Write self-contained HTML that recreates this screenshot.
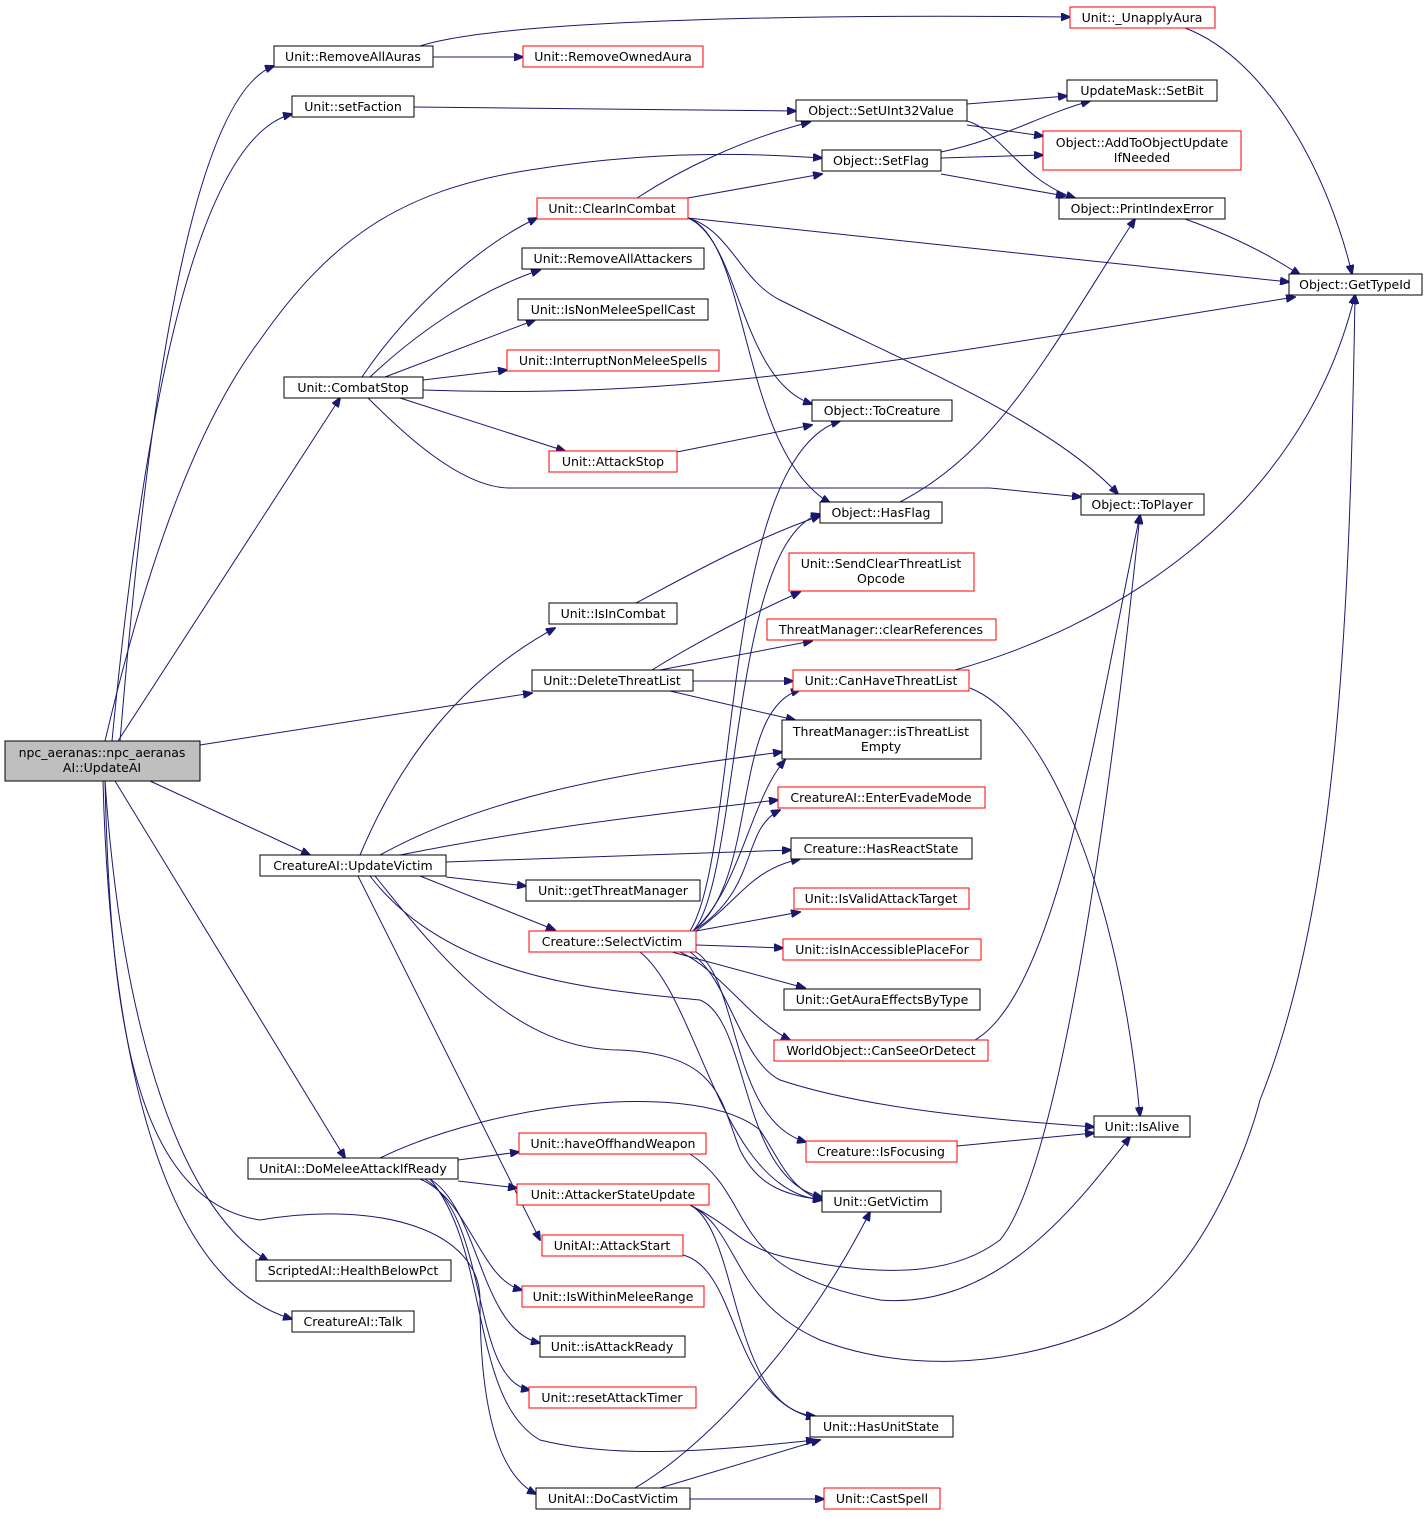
<!DOCTYPE html>
<html><head><meta charset="utf-8"><style>
html,body{margin:0;padding:0;background:#fff;}
svg{display:block;font-family:"DejaVu Sans","Liberation Sans",sans-serif;}
text{font-size:12.5px;fill:#000;text-anchor:middle;}
.n{fill:#fff;stroke:#000;stroke-width:1;}
.r{fill:#fff;stroke:#ff0000;stroke-width:1;}
path{fill:none;stroke:#191970;stroke-width:1;}
</style></head><body>
<svg width="1428" height="1519" viewBox="0 0 1428 1519" xmlns="http://www.w3.org/2000/svg">
<defs><marker id="a" markerWidth="10" markerHeight="8" refX="9" refY="4" orient="auto" markerUnits="userSpaceOnUse"><path d="M0,0 L10,4 L0,8 Z" style="fill:#191970;stroke:#191970"/></marker></defs>
<g marker-end="url(#a)">
<path d="M120,741 C140,500 180,100 274,66"/>
<path d="M112,741 C140,450 190,140 292,114"/>
<path d="M105,741 C150,550 200,420 260,340 C330,240 400,190 530,170 C640,152 740,152 822,158"/>
<path d="M118,741 L340,398"/>
<path d="M200,745 L532,693"/>
<path d="M150,781 L310,855"/>
<path d="M115,781 L345,1158"/>
<path d="M105,781 C120,1000 170,1200 268,1261"/>
<path d="M103,781 C110,1050 160,1280 292,1319"/>
<path d="M105,781 C110,1000 130,1200 260,1220 C380,1200 480,1230 480,1300 C480,1380 490,1470 536,1494"/>
<path d="M430,1179 C490,1250 470,1400 540,1440 C620,1460 720,1450 815,1440"/>
<path d="M420,46 C500,20 800,14 1070,17"/>
<path d="M433,57 L523,57"/>
<path d="M1185,28 C1270,60 1330,180 1352,274"/>
<path d="M414,107 L796,111"/>
<path d="M967,104 L1067,96"/>
<path d="M967,125 L1043,136"/>
<path d="M967,121 C1000,130 1020,180 1075,198"/>
<path d="M941,152 C1000,140 1040,115 1090,101"/>
<path d="M941,158 L1043,155"/>
<path d="M941,174 L1065,196"/>
<path d="M1185,219 C1230,235 1270,255 1300,275"/>
<path d="M637,198 C680,170 740,140 810,122"/>
<path d="M688,198 L822,174"/>
<path d="M688,218 L1289,282"/>
<path d="M688,218 C740,240 740,380 812,404"/>
<path d="M688,218 C750,240 740,450 830,503"/>
<path d="M688,218 C730,230 740,280 780,300 C900,360 1050,420 1118,494"/>
<path d="M362,377 C400,320 470,250 537,218"/>
<path d="M370,377 C420,330 480,290 540,270"/>
<path d="M385,377 L535,320"/>
<path d="M423,380 L507,370"/>
<path d="M423,390 C700,400 900,360 1295,297"/>
<path d="M400,398 L565,451"/>
<path d="M368,398 C400,430 460,488 510,488 L990,488 L1081,497"/>
<path d="M677,452 L812,425"/>
<path d="M636,603 C680,580 750,540 820,516"/>
<path d="M900,502 C1000,450 1050,350 1135,219"/>
<path d="M652,670 C700,640 760,610 800,592"/>
<path d="M660,670 L812,641"/>
<path d="M693,681 L793,681"/>
<path d="M670,691 L795,720"/>
<path d="M955,670 C1100,630 1300,520 1355,295"/>
<path d="M970,688 C1050,720 1120,900 1140,1116"/>
<path d="M360,855 C400,760 460,680 555,628"/>
<path d="M380,855 C480,800 600,775 782,752"/>
<path d="M400,855 C500,835 600,820 778,800"/>
<path d="M446,862 L791,850"/>
<path d="M446,877 L526,886"/>
<path d="M420,876 L555,930"/>
<path d="M358,876 L540,1240"/>
<path d="M370,876 C450,980 600,990 700,1000 C750,1020 740,1180 822,1197"/>
<path d="M375,876 C450,970 520,1050 620,1050 C720,1055 720,1100 740,1150 C760,1190 790,1195 822,1200"/>
<path d="M690,931 C740,850 720,460 840,421"/>
<path d="M693,931 C740,880 730,540 820,514"/>
<path d="M693,931 C760,880 730,710 800,690"/>
<path d="M693,931 C740,890 750,800 785,760"/>
<path d="M693,931 C760,890 740,830 780,810"/>
<path d="M696,931 C740,900 750,870 800,859"/>
<path d="M696,931 L800,912"/>
<path d="M696,945 L783,948"/>
<path d="M672,952 L805,988"/>
<path d="M680,952 C720,970 750,1020 790,1040"/>
<path d="M690,952 C730,980 740,1060 780,1080 C870,1110 1000,1120 1094,1127"/>
<path d="M696,952 C740,980 730,1120 806,1142"/>
<path d="M640,952 C700,1000 720,1190 822,1200"/>
<path d="M975,1040 C1060,990 1100,700 1140,515"/>
<path d="M957,1146 L1094,1133"/>
<path d="M458,1160 L519,1152"/>
<path d="M458,1181 L517,1188"/>
<path d="M380,1158 C500,1100 700,1080 760,1130 C780,1160 790,1190 822,1200"/>
<path d="M420,1179 C470,1200 480,1280 522,1290"/>
<path d="M430,1179 C480,1210 480,1330 540,1343"/>
<path d="M425,1179 C490,1220 470,1380 530,1390"/>
<path d="M690,1154 C760,1200 720,1270 880,1300 C1000,1310 1080,1200 1130,1137"/>
<path d="M690,1205 C740,1230 730,1410 815,1416"/>
<path d="M690,1205 C740,1230 730,1300 820,1340 C900,1370 1000,1370 1100,1330 C1200,1290 1250,1140 1260,1100 C1340,900 1350,600 1355,295"/>
<path d="M690,1205 C740,1230 740,1250 800,1260 C900,1280 960,1270 1000,1240 C1050,1180 1100,900 1140,515"/>
<path d="M683,1255 C740,1270 730,1400 815,1418"/>
<path d="M660,1488 L820,1440"/>
<path d="M635,1488 C700,1450 800,1350 870,1212"/>
<path d="M690,1499 L824,1499"/>
</g>
<rect x="5" y="741" width="195" height="40" style="fill:#bfbfbf;stroke:#000"/>
<text x="102" y="757">npc_aeranas::npc_aeranas</text><text x="102" y="772">AI::UpdateAI</text>
<rect class="n" x="274" y="46" width="159" height="21"/><text x="353" y="61">Unit::RemoveAllAuras</text>
<rect class="n" x="292" y="96" width="122" height="21"/><text x="353" y="111">Unit::setFaction</text>
<rect class="n" x="284" y="377" width="139" height="21"/><text x="353" y="392">Unit::CombatStop</text>
<rect class="n" x="260" y="855" width="186" height="21"/><text x="353" y="870">CreatureAI::UpdateVictim</text>
<rect class="n" x="248" y="1158" width="210" height="21"/><text x="353" y="1173">UnitAI::DoMeleeAttackIfReady</text>
<rect class="n" x="256" y="1260" width="195" height="21"/><text x="353" y="1275">ScriptedAI::HealthBelowPct</text>
<rect class="n" x="292" y="1311" width="122" height="21"/><text x="353" y="1326">CreatureAI::Talk</text>
<rect class="r" x="523" y="46" width="180" height="21"/><text x="613" y="61">Unit::RemoveOwnedAura</text>
<rect class="r" x="537" y="198" width="151" height="21"/><text x="612" y="213">Unit::ClearInCombat</text>
<rect class="n" x="522" y="248" width="182" height="21"/><text x="613" y="263">Unit::RemoveAllAttackers</text>
<rect class="n" x="518" y="299" width="190" height="21"/><text x="613" y="314">Unit::IsNonMeleeSpellCast</text>
<rect class="r" x="507" y="350" width="212" height="21"/><text x="613" y="365">Unit::InterruptNonMeleeSpells</text>
<rect class="r" x="549" y="451" width="128" height="21"/><text x="613" y="466">Unit::AttackStop</text>
<rect class="n" x="549" y="603" width="128" height="21"/><text x="613" y="618">Unit::IsInCombat</text>
<rect class="n" x="532" y="670" width="161" height="21"/><text x="612" y="685">Unit::DeleteThreatList</text>
<rect class="n" x="526" y="880" width="174" height="21"/><text x="613" y="895">Unit::getThreatManager</text>
<rect class="r" x="529" y="931" width="167" height="21"/><text x="612" y="946">Creature::SelectVictim</text>
<rect class="r" x="519" y="1133" width="187" height="21"/><text x="613" y="1148">Unit::haveOffhandWeapon</text>
<rect class="r" x="517" y="1184" width="192" height="21"/><text x="613" y="1199">Unit::AttackerStateUpdate</text>
<rect class="r" x="542" y="1235" width="141" height="21"/><text x="612" y="1250">UnitAI::AttackStart</text>
<rect class="r" x="522" y="1286" width="182" height="21"/><text x="613" y="1301">Unit::IsWithinMeleeRange</text>
<rect class="n" x="540" y="1336" width="145" height="21"/><text x="612" y="1351">Unit::isAttackReady</text>
<rect class="r" x="529" y="1387" width="167" height="21"/><text x="612" y="1402">Unit::resetAttackTimer</text>
<rect class="n" x="536" y="1488" width="154" height="21"/><text x="613" y="1503">UnitAI::DoCastVictim</text>
<rect class="n" x="796" y="100" width="171" height="21"/><text x="881" y="115">Object::SetUInt32Value</text>
<rect class="n" x="822" y="150" width="119" height="21"/><text x="881" y="165">Object::SetFlag</text>
<rect class="n" x="812" y="400" width="140" height="21"/><text x="882" y="415">Object::ToCreature</text>
<rect class="n" x="820" y="502" width="122" height="21"/><text x="881" y="517">Object::HasFlag</text>
<rect class="r" x="789" y="553" width="185" height="38"/><text x="881" y="568">Unit::SendClearThreatList</text><text x="881" y="583">Opcode</text>
<rect class="r" x="767" y="619" width="229" height="21"/><text x="881" y="634">ThreatManager::clearReferences</text>
<rect class="r" x="793" y="670" width="176" height="21"/><text x="881" y="685">Unit::CanHaveThreatList</text>
<rect class="n" x="782" y="720" width="199" height="39"/><text x="881" y="736">ThreatManager::isThreatList</text><text x="881" y="751">Empty</text>
<rect class="r" x="778" y="787" width="207" height="21"/><text x="881" y="802">CreatureAI::EnterEvadeMode</text>
<rect class="n" x="791" y="838" width="181" height="21"/><text x="881" y="853">Creature::HasReactState</text>
<rect class="r" x="794" y="888" width="175" height="21"/><text x="881" y="903">Unit::IsValidAttackTarget</text>
<rect class="r" x="783" y="939" width="198" height="21"/><text x="882" y="954">Unit::isInAccessiblePlaceFor</text>
<rect class="n" x="784" y="989" width="196" height="21"/><text x="882" y="1004">Unit::GetAuraEffectsByType</text>
<rect class="r" x="774" y="1040" width="214" height="21"/><text x="881" y="1055">WorldObject::CanSeeOrDetect</text>
<rect class="r" x="806" y="1141" width="151" height="21"/><text x="881" y="1156">Creature::IsFocusing</text>
<rect class="n" x="822" y="1191" width="119" height="21"/><text x="881" y="1206">Unit::GetVictim</text>
<rect class="n" x="810" y="1416" width="143" height="21"/><text x="881" y="1431">Unit::HasUnitState</text>
<rect class="r" x="824" y="1488" width="116" height="21"/><text x="882" y="1503">Unit::CastSpell</text>
<rect class="r" x="1070" y="7" width="145" height="21"/><text x="1142" y="22">Unit::_UnapplyAura</text>
<rect class="n" x="1067" y="80" width="150" height="21"/><text x="1142" y="95">UpdateMask::SetBit</text>
<rect class="r" x="1043" y="131" width="198" height="39"/><text x="1142" y="147">Object::AddToObjectUpdate</text><text x="1142" y="162">IfNeeded</text>
<rect class="n" x="1059" y="198" width="166" height="21"/><text x="1142" y="213">Object::PrintIndexError</text>
<rect class="n" x="1081" y="494" width="123" height="21"/><text x="1142" y="509">Object::ToPlayer</text>
<rect class="n" x="1094" y="1116" width="96" height="21"/><text x="1142" y="1131">Unit::IsAlive</text>
<rect class="n" x="1289" y="274" width="133" height="21"/><text x="1355" y="289">Object::GetTypeId</text>
</svg>
</body></html>
